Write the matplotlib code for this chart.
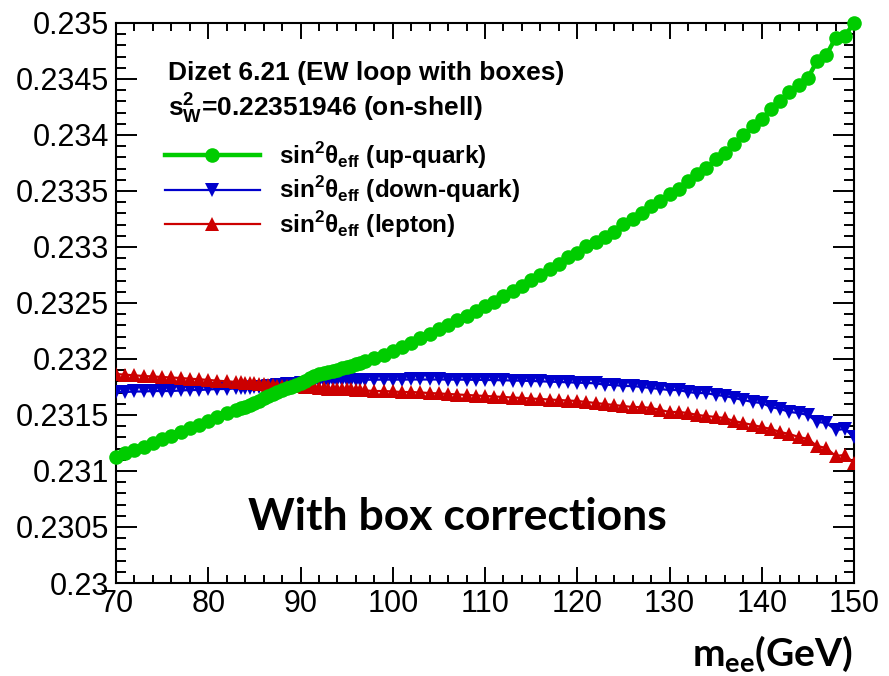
import matplotlib
matplotlib.use("Agg")
import matplotlib.pyplot as plt
from matplotlib.ticker import MultipleLocator, FuncFormatter

plt.rcParams['font.family'] = ['Liberation Sans', 'DejaVu Sans']
plt.rcParams['mathtext.fontset'] = 'custom'
plt.rcParams['mathtext.rm'] = 'Liberation Sans'
plt.rcParams['mathtext.bf'] = 'Liberation Sans:bold'
plt.rcParams['mathtext.sf'] = 'Lato:bold'

# ---------------- data ----------------
mass = [70, 71, 72, 73, 74, 75, 76, 77, 78, 79, 80, 81, 82, 83,
        83.5, 84, 84.5, 85, 85.5, 86, 86.5, 87, 87.5, 88, 88.5, 89, 89.5, 90,
        90.5, 91, 91.5, 92, 92.5, 93, 93.5, 94, 94.5, 95, 95.5, 96, 96.5, 97,
        98, 99, 100, 101, 102, 103, 104, 105, 106, 107, 108, 109, 110,
        111, 112, 113, 114, 115, 116, 117, 118, 119, 120, 121, 122, 123,
        124, 125, 126, 127, 128, 129, 130, 131, 132, 133, 134, 135, 136,
        137, 138, 139, 140, 141, 142, 143, 144, 145, 146, 147, 148, 149, 150]

up_quark = [0.231125, 0.231161, 0.231188, 0.231214, 0.231250, 0.231286, 0.231313, 0.231348, 0.231384, 0.231411, 0.231446, 0.231482, 0.231518, 0.231545,
            0.231563, 0.231571, 0.231589, 0.231607, 0.231629, 0.231652, 0.231670, 0.231688, 0.231705, 0.231723, 0.231737, 0.231750, 0.231768, 0.231786,
            0.231804, 0.231830, 0.231848, 0.231866, 0.231875, 0.231888, 0.231897, 0.231906, 0.231920, 0.231929, 0.231938, 0.231951, 0.231964, 0.231978,
            0.232009, 0.232036, 0.232071, 0.232107, 0.232143, 0.232188, 0.232223, 0.232268, 0.232304, 0.232348, 0.232384, 0.232429, 0.232473,
            0.232509, 0.232563, 0.232607, 0.232652, 0.232705, 0.232750, 0.232804, 0.232848, 0.232911, 0.232946, 0.233009, 0.233045, 0.233089,
            0.233134, 0.233205, 0.233250, 0.233304, 0.233366, 0.233411, 0.233473, 0.233518, 0.233589, 0.233652, 0.233705, 0.233786, 0.233839,
            0.233920, 0.234000, 0.234080, 0.234143, 0.234232, 0.234304, 0.234384, 0.234446, 0.234509, 0.234661, 0.234714, 0.234866, 0.234884, 0.235000]

down_quark = [0.231705, 0.231705, 0.231710, 0.231710, 0.231714, 0.231714, 0.231714, 0.231719, 0.231723, 0.231723, 0.231728, 0.231732, 0.231732, 0.231737,
              0.231737, 0.231741, 0.231741, 0.231746, 0.231750, 0.231754, 0.231759, 0.231763, 0.231768, 0.231772, 0.231777, 0.231777, 0.231781, 0.231786,
              0.231790, 0.231795, 0.231799, 0.231804, 0.231806, 0.231808, 0.231810, 0.231811, 0.231812, 0.231813, 0.231813, 0.231814, 0.231814, 0.231815,
              0.231815, 0.231816, 0.231816, 0.231816, 0.231817, 0.231817, 0.231817, 0.231817, 0.231816, 0.231816, 0.231815, 0.231814, 0.231813,
              0.231812, 0.231810, 0.231808, 0.231806, 0.231804, 0.231801, 0.231798, 0.231795, 0.231792, 0.231789, 0.231786, 0.231783, 0.231770,
              0.231768, 0.231759, 0.231759, 0.231750, 0.231741, 0.231732, 0.231723, 0.231723, 0.231705, 0.231696, 0.231696, 0.231679, 0.231670,
              0.231652, 0.231634, 0.231616, 0.231607, 0.231571, 0.231554, 0.231527, 0.231518, 0.231500, 0.231438, 0.231429, 0.231366, 0.231375, 0.231304]

lepton = [0.231866, 0.231860, 0.231854, 0.231848, 0.231844, 0.231839, 0.231835, 0.231830, 0.231824, 0.231819, 0.231813, 0.231806, 0.231801, 0.231795,
          0.231792, 0.231789, 0.231786, 0.231783, 0.231780, 0.231777, 0.231772, 0.231768, 0.231763, 0.231759, 0.231759, 0.231763, 0.231763, 0.231759,
          0.231754, 0.231750, 0.231746, 0.231741, 0.231737, 0.231732, 0.231732, 0.231732, 0.231732, 0.231728, 0.231728, 0.231723, 0.231723, 0.231719,
          0.231714, 0.231714, 0.231710, 0.231705, 0.231705, 0.231701, 0.231696, 0.231692, 0.231688, 0.231683, 0.231679, 0.231674, 0.231670,
          0.231665, 0.231661, 0.231656, 0.231652, 0.231647, 0.231643, 0.231638, 0.231634, 0.231629, 0.231625, 0.231616, 0.231607, 0.231598,
          0.231589, 0.231580, 0.231571, 0.231571, 0.231563, 0.231545, 0.231527, 0.231527, 0.231518, 0.231500, 0.231491, 0.231482, 0.231473,
          0.231446, 0.231429, 0.231411, 0.231393, 0.231375, 0.231348, 0.231330, 0.231304, 0.231286, 0.231223, 0.231205, 0.231134, 0.231143, 0.231071]

labels = [r'sin$^{\mathbf{2}}$θ$_{\mathbf{eff}}$ (up-quark)',
          r'sin$^{\mathbf{2}}$θ$_{\mathbf{eff}}$ (down-quark)',
          r'sin$^{\mathbf{2}}$θ$_{\mathbf{eff}}$ (lepton)']

GREEN = '#00CC00'
BLUE = '#0000CC'
RED = '#CC0000'

# ---------------- figure ----------------
W, H = 889, 676
fig = plt.figure(figsize=(W / 100, H / 100), dpi=100)
ax = fig.add_axes([116 / W, 1 - 583 / H, 738 / W, 560 / H])

hb, = ax.plot(mass, down_quark, color=BLUE, lw=1.6, marker='v', ms=9.5, mew=0, zorder=3)
hr, = ax.plot(mass, lepton, color=RED, lw=1.6, marker='^', ms=9.5, mew=0, zorder=4)
hg, = ax.plot(mass, up_quark, color=GREEN, lw=3.2, marker='o', ms=10.5, mew=0, zorder=5, clip_on=False)

ax.set_xlim(70, 150)
ax.set_ylim(0.23, 0.235)

ax.xaxis.set_major_locator(MultipleLocator(10))
ax.xaxis.set_minor_locator(MultipleLocator(2))
ax.yaxis.set_major_locator(MultipleLocator(0.0005))
ax.yaxis.set_minor_locator(MultipleLocator(0.0001))
ax.yaxis.set_major_formatter(FuncFormatter(lambda v, p: ('%.4f' % v).rstrip('0').rstrip('.')))

ax.tick_params(axis='both', which='both', direction='in', top=True, right=True, width=1.4, colors='black')
ax.tick_params(axis='x', which='major', length=11.5, labelsize=22, pad=4)
ax.tick_params(axis='x', which='minor', length=6)
ax.tick_params(axis='y', which='major', length=15, labelsize=22, pad=5)
ax.tick_params(axis='y', which='minor', length=7.5)
for s in ax.spines.values():
    s.set_linewidth(1.5)

leg = ax.legend([hg, hb, hr], labels, loc='upper left', bbox_to_anchor=(165 / W, 1 - 140 / H),
                bbox_transform=fig.transFigure, frameon=False, handlelength=3.9, handletextpad=0.8,
                labelspacing=0.15, borderpad=0, borderaxespad=0,
                prop={'family': 'Liberation Sans', 'weight': 'bold', 'size': 17.5})

fig.text(168 / W, 1 - 80 / H, 'Dizet 6.21 (EW loop with boxes)', fontsize=19, fontweight='bold', va='baseline')
fig.text(168 / W, 1 - 117 / H, r'$\mathbf{s^{2}_{W}}$=0.22351946 (on-shell)', fontsize=19, fontweight='bold', va='baseline')
fig.text(248 / W, 1 - 530 / H, 'With box corrections', fontsize=32, fontweight='bold', family='Lato', va='baseline')
fig.text(853 / W, 1 - 666 / H, r'$\mathsf{m_{ee}(GeV)}$', fontsize=28, ha='right', va='baseline')

fig.savefig('out.png', dpi=100)
